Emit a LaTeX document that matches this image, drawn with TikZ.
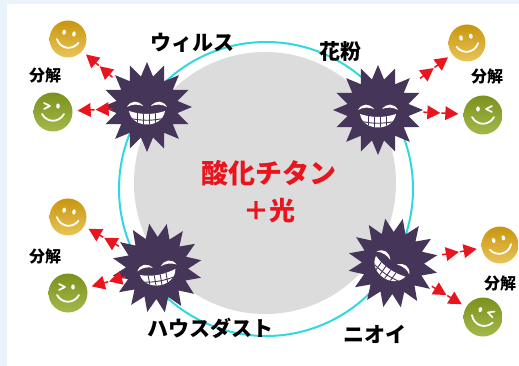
\documentclass[tikz,border=0pt]{standalone}
\usepackage{fontspec}
\setmainfont{Noto Sans CJK JP}
\usetikzlibrary{positioning,shapes.geometric,decorations.markings}
\definecolor{germ}{HTML}{453659}
\definecolor{ring}{HTML}{30D8E0}
\definecolor{disc}{HTML}{DCDCDC}
\definecolor{frame}{HTML}{EAF3FC}
\definecolor{zap}{HTML}{E8141E}
\definecolor{goldtop}{HTML}{C8960E}
\definecolor{goldbot}{HTML}{E9C45A}
\definecolor{leaftop}{HTML}{7A921E}
\definecolor{leafbot}{HTML}{A3B84A}

% one red head with a short tail behind it
\newcommand{\zaptip}{%
  \fill[zap] (0pt,0pt) -- (-13pt,7pt) -- (-13pt,-7pt) -- cycle;
  \draw[zap, line width=1.5pt] (-12pt,0pt) -- (-17pt,0pt);}

\tikzset{
  virus/.style={star, star points=16, star point ratio=1.45, minimum size=90pt,
    inner sep=0pt, fill=germ},
  happy/.style={circle, minimum size=37pt, inner sep=0pt, top color=goldtop, bottom color=goldbot},
  winky/.style={circle, minimum size=39pt, inner sep=0pt, top color=leaftop, bottom color=leafbot},
  zapline/.style={decoration={markings,
      mark=at position -5pt with {\zaptip},
      mark=at position -23pt with {\zaptip}},
    postaction={decorate}},
  tag/.style={font=\bfseries\fontsize{21}{21}\selectfont},
  done/.style={font=\bfseries\fontsize{16}{16}\selectfont},
  grin/.pic={
    \fill[white] (-20,0) .. controls (-16,-7) and (-9,-7) .. (-4,-1)
                 .. controls (-9,-3) and (-15,-3) .. cycle;
    \fill[white] (20,0) .. controls (16,-7) and (9,-7) .. (4,-1)
                 .. controls (9,-3) and (15,-3) .. cycle;
    \begin{scope}
      \clip (-18,4) .. controls (-6,8) and (6,8) .. (18,4)
            .. controls (15,22) and (-15,22) .. cycle;
      \fill[white] (-19,0) rectangle (19,23);
      \draw[germ, line width=0.9pt] (-18,11) .. controls (-6,14) and (6,14) .. (18,11);
      \foreach \t in {-10,-4,2,8}
        \draw[germ, line width=0.9pt] (\t,4) -- (\t,23);
    \end{scope}
  },
  smile/.pic={
    \fill[white] (-5,-6) ellipse (1.8 and 2.6);
    \fill[white] (5,-6) ellipse (1.8 and 2.6);
    \draw[white, line width=1.8pt, line cap=round] (-11,2) .. controls (-6,11) and (6,11) .. (11,2);
  },
  wink/.pic={
    \draw[white, line width=1.6pt, line cap=round, line join=round] (-9,-9) -- (-3,-6) -- (-9,-3);
    \fill[white] (5,-6) ellipse (1.8 and 2.6);
    \draw[white, line width=1.8pt, line cap=round] (-11,2) .. controls (-6,11) and (6,11) .. (11,2);
  }
}

\begin{document}
\begin{tikzpicture}[x=1pt, y=-1pt]
  \fill[frame] (0,0) rectangle (519,366);
  \fill[white] (7,4) rectangle (519,366);
  \useasboundingbox (0,0) rectangle (519,366);

  \fill[disc] (265,183) circle (131);
  \draw[ring, line width=2pt] (266,189) circle (147);

  \node[virus] (v1) at (147,107) {};
  \node[virus] (v2) at (378,110) {};
  \node[virus, rotate=10] (v3) at (157,268) {};
  \node[virus, rotate=-35] (v4) at (393,263) {};
  \pic at (v1) {grin};
  \pic at (v2) {grin};
  \pic[rotate=10] at (v3) {grin};
  \pic[rotate=-35] at (v4) {grin};

  \node[happy] (s1) at (68,39) {};
  \node[winky] (s2) at (53,112) {};
  \node[happy] (s3) at (467,43) {};
  \node[winky] (s4) at (483,115) {};
  \node[happy] (s5) at (68,217) {};
  \node[winky] (s6) at (68,293) {};
  \node[happy] (s7) at (500,245) {};
  \node[winky] (s8) at (483,317) {};
  \pic[rotate=-10] at (s1) {smile};
  \pic at (s2) {wink};
  \pic[rotate=10] at (s3) {smile};
  \pic[xscale=-1] at (s4) {wink};
  \pic[rotate=-10] at (s5) {smile};
  \pic at (s6) {wink};
  \pic[rotate=15] at (s7) {smile};
  \pic[xscale=-1, rotate=20] at (s8) {wink};

  \path[zapline] (v1) -- (s1);
  \path[zapline] (v1) -- (s2);
  \path[zapline] (v2) -- (s3);
  \path[zapline] (v2) -- (s4);
  \path[zapline] (v3) -- (s5);
  \path[zapline] (v3) -- (s6);
  \path[zapline] (v4) -- (s7);
  \path[zapline] (v4) -- (s8);

  \node[tag] (virusname) at (192,43) {ウィルス};
  \node[tag] (pollen) at (340,52) {花粉};
  \node[tag] (dust) at (210,328) {ハウスダスト};
  \node[tag] (smell) at (375,334) {ニオイ};

  \node[done] (d1) at (45,75) {分解};
  \node[done] (d2) at (487,76) {分解};
  \node[done] (d3) at (45,256) {分解};
  \node[done] (d4) at (500,283) {分解};

  \node[font=\bfseries\fontsize{27}{27}\selectfont, text=zap] (titan) at (269,173) {酸化チタン};
  \node[font=\bfseries\fontsize{26}{26}\selectfont, text=zap] (light) [below=5pt of titan] {＋光};
\end{tikzpicture}
\end{document}
